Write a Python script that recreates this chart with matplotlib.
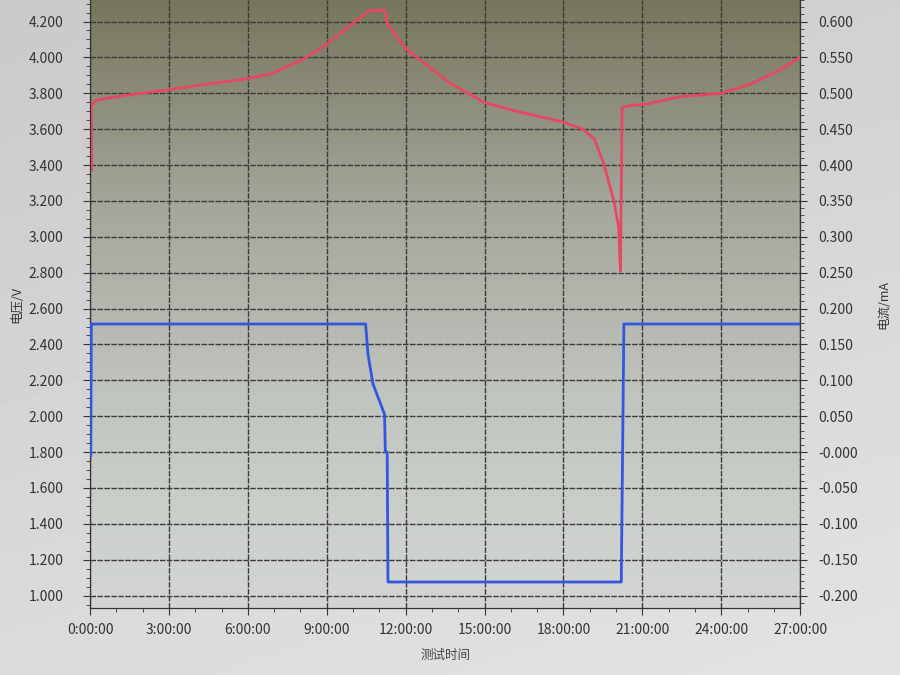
import numpy as np
import matplotlib
matplotlib.use("Agg")
import matplotlib.pyplot as plt
from matplotlib.ticker import MultipleLocator, FuncFormatter
from matplotlib.colors import LinearSegmentedColormap

plt.rcParams['font.family'] = ['Noto Sans CJK SC', 'DejaVu Sans']

# Voltage curve (hours, V)
v_time = [0.06, 0.05, 0.2, 0.68, 1.92, 2.9, 4.4, 5.94, 6.9, 8.1, 8.97, 9.97, 10.6, 11.2,
          11.3, 12.0, 13.7, 15.0, 16.2, 18.0, 18.74, 19.18, 19.55, 19.92, 20.1, 20.17,
          20.23, 20.48, 21.16, 22.4, 24.0, 25.1, 26.1, 27.0]
v_vals = [3.373, 3.727, 3.76, 3.773, 3.80, 3.818, 3.85, 3.88, 3.91, 3.99, 4.07, 4.187, 4.26, 4.264,
          4.187, 4.05, 3.855, 3.749, 3.70, 3.64, 3.60, 3.545, 3.40, 3.20, 3.055, 2.81,
          3.72, 3.73, 3.74, 3.78, 3.80, 3.85, 3.92, 4.00]

# Current curve (hours, mA)
i_time = [0.03, 0.05, 10.48, 10.57, 10.76, 11.2, 11.23, 11.3, 11.33, 20.2, 20.3, 27.0]
i_vals = [-0.005, 0.1785, 0.1785, 0.136, 0.095, 0.0525, 0.0, 0.0, -0.181, -0.181, 0.1785, 0.1785]

x_ticks = [0, 3, 6, 9, 12, 15, 18, 21, 24, 27]
x_labels = [f"{h}:00:00" for h in x_ticks]

fig = plt.figure(figsize=(9, 6.75), dpi=100)

# figure background gradient (screen photo)
bg = fig.add_axes([0, 0, 1, 1], zorder=-10)
GX, GY = np.meshgrid(np.linspace(0, 1, 200), np.linspace(0, 1, 200))
val = 0.79 + 0.07 * GY + 0.03 * GX
bgcm = LinearSegmentedColormap.from_list('bg', ['#000000', '#ffffff'])
bg.imshow(val, cmap=bgcm, vmin=0, vmax=1, extent=[0, 1, 0, 1], aspect='auto', origin='upper')
bg.axis('off')

ax = fig.add_axes([0.100, 0.099, 0.789, 0.901])
ax.set_xlim(0, 27)
ax.set_ylim(0.93, 4.32)

# plot-area gradient: dark olive at top to light grey at bottom
cm = LinearSegmentedColormap.from_list('pa', ['#d3d6d3', '#c2c6c0', '#a3a69a', '#77755c'])
grad = np.linspace(0, 1, 256).reshape(-1, 1)
ax.imshow(grad, cmap=cm, extent=[0, 27, 0.93, 4.32], aspect='auto', origin='lower', zorder=0)

ax.set_xticks(x_ticks)
ax.set_xticklabels(x_labels)
ax.xaxis.set_minor_locator(MultipleLocator(1))
ax.set_yticks(np.arange(1.0, 4.21, 0.2))
ax.yaxis.set_minor_locator(MultipleLocator(0.05))
ax.yaxis.set_major_formatter(FuncFormatter(lambda v, p: f"{v:.3f}"))
ax.grid(True, which='major', color='#3a3a3a', linestyle=(0, (4, 1)), linewidth=1.0, zorder=1)

ax.plot(v_time, v_vals, color='#e84763', linewidth=2.0, zorder=3)

ax2 = ax.twinx()
ax2.set_ylim(0.93 / 4 - 0.45, 4.32 / 4 - 0.45)
ax2.set_yticks(np.round(np.arange(-0.2, 0.601, 0.05), 3))
ax2.yaxis.set_minor_locator(MultipleLocator(0.01))
ax2.yaxis.set_major_formatter(FuncFormatter(lambda v, p: ("-0.000" if abs(v) < 1e-9 else f"{v:.3f}")))
ax2.plot(i_time, i_vals, color='#3355e0', linewidth=2.0, zorder=3)

for a in (ax, ax2):
    for s in a.spines.values():
        s.set_color('#333333')
    a.spines['top'].set_visible(False)
    a.tick_params(axis='both', which='major', labelsize=10, colors='#333333', labelcolor='#333333', length=5)
    a.tick_params(axis='both', which='minor', colors='#333333', length=3)

ax.tick_params(axis='y', pad=14)
ax.tick_params(axis='x', pad=6)
ax2.tick_params(axis='y', pad=8)

ax.set_xlabel("测试时间", fontsize=9, color='#444444', labelpad=8)
ax.set_ylabel("电压/V", fontsize=9, color='#333333', labelpad=4)
ax2.set_ylabel("电流/mA", fontsize=9, color='#333333', labelpad=14)

fig.savefig("out.png", dpi=100)
